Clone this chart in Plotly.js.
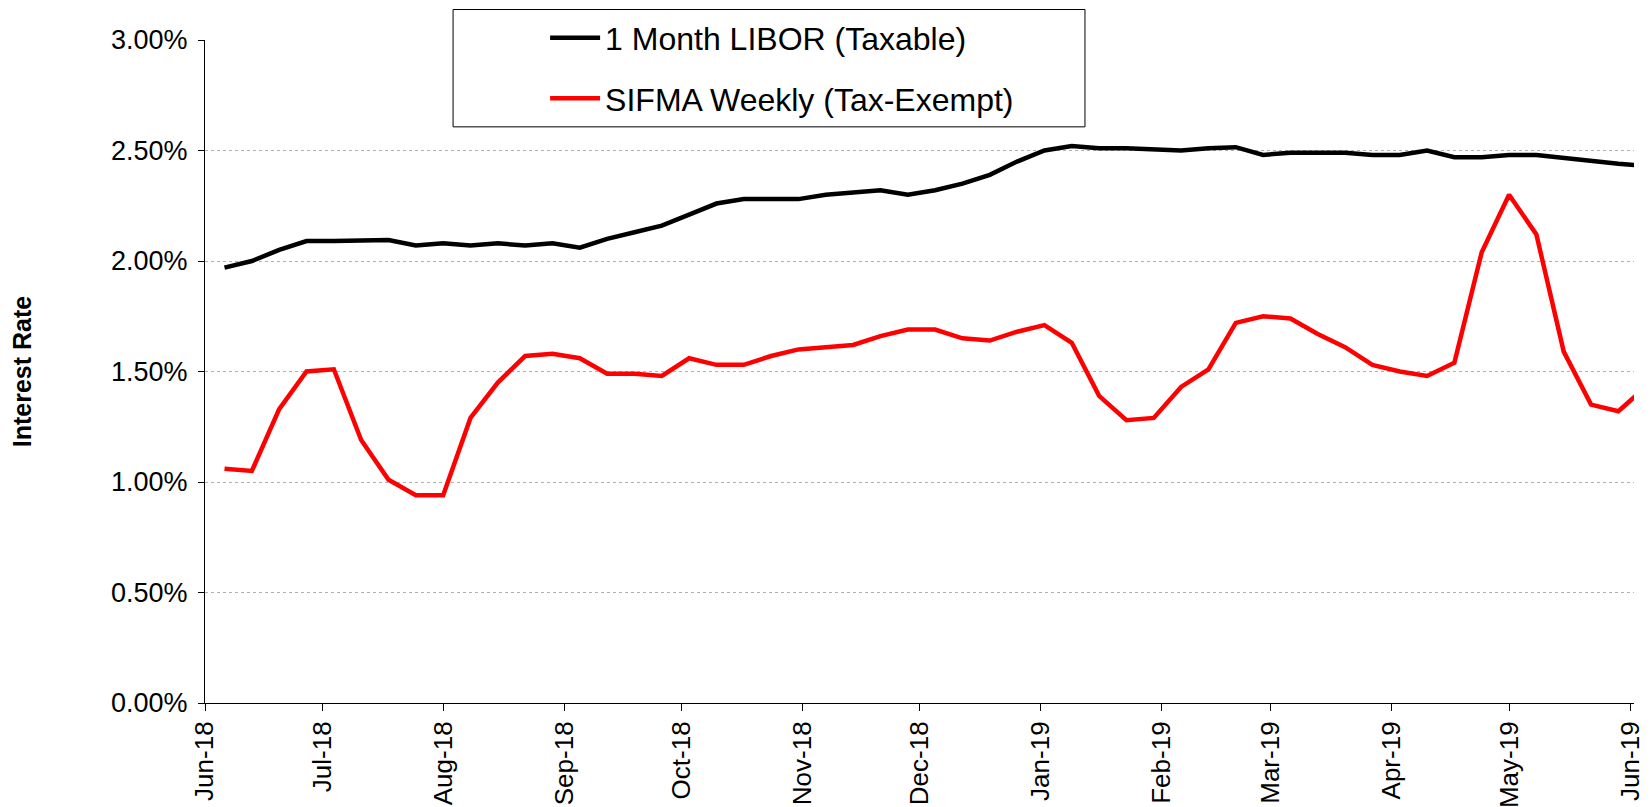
<!DOCTYPE html>
<html>
<head>
<meta charset="utf-8">
<script src="https://cdn.plot.ly/plotly-3.0.1.min.js"></script>
<style>
    html, body { margin: 0; padding: 0; background: #fff; }
    #graph { width: 1652px; height: 807px; }
</style>
</head>
<body>
<div id="graph"></div>
<script>
// Недельные даты (среды)
const weeks = [
    '2018-06-06', '2018-06-13', '2018-06-20', '2018-06-27',
    '2018-07-04', '2018-07-11', '2018-07-18', '2018-07-25',
    '2018-08-01', '2018-08-08', '2018-08-15', '2018-08-22', '2018-08-29',
    '2018-09-05', '2018-09-12', '2018-09-19', '2018-09-26',
    '2018-10-03', '2018-10-10', '2018-10-17', '2018-10-24', '2018-10-31',
    '2018-11-07', '2018-11-14', '2018-11-21', '2018-11-28',
    '2018-12-05', '2018-12-12', '2018-12-19', '2018-12-26',
    '2019-01-02', '2019-01-09', '2019-01-16', '2019-01-23', '2019-01-30',
    '2019-02-06', '2019-02-13', '2019-02-20', '2019-02-27',
    '2019-03-06', '2019-03-13', '2019-03-20', '2019-03-27',
    '2019-04-03', '2019-04-10', '2019-04-17', '2019-04-24',
    '2019-05-01', '2019-05-08', '2019-05-15', '2019-05-22', '2019-05-29',
    '2019-06-05'
];

// Ставки, %
const libor = [
    1.97, 2.00, 2.05, 2.09, 2.09, 2.09, 2.095, 2.07, 2.08, 2.07, 2.08, 2.07, 2.08,
    2.06, 2.10, 2.13, 2.16, 2.21, 2.26, 2.28, 2.28, 2.28, 2.30, 2.31, 2.32, 2.30,
    2.32, 2.35, 2.39, 2.45, 2.50, 2.52, 2.51, 2.51, 2.505, 2.50, 2.51, 2.515, 2.48,
    2.49, 2.49, 2.49, 2.48, 2.48, 2.50, 2.47, 2.47, 2.48, 2.48, 2.465, 2.45, 2.44,
    2.43
];
const sifma = [
    1.06, 1.05, 1.33, 1.50, 1.51, 1.19, 1.01, 0.94, 0.94, 1.29, 1.45, 1.57, 1.58,
    1.56, 1.49, 1.49, 1.48, 1.56, 1.53, 1.53, 1.57, 1.60, 1.61, 1.62, 1.66, 1.69,
    1.69, 1.65, 1.64, 1.68, 1.71, 1.63, 1.39, 1.28, 1.29, 1.43, 1.51, 1.72, 1.75,
    1.74, 1.67, 1.61, 1.53, 1.50, 1.48, 1.54, 2.04, 2.30, 2.12, 1.59, 1.35, 1.32,
    1.43
];

const seriesNames = ['1 Month LIBOR (Taxable)', 'SIFMA Weekly (Tax-Exempt)'];
const font = 'Liberation Sans, Arial, sans-serif';

const traces = [
    {
        x: weeks,
        y: libor,
        type: 'scatter',
        mode: 'lines',
        name: seriesNames[0],
        legendgroup: 'a',
        line: { color: '#000000', width: 4.5 }
    },
    {
        x: weeks,
        y: sifma,
        type: 'scatter',
        mode: 'lines',
        name: seriesNames[1],
        legendgroup: 'b',
        line: { color: '#ff0000', width: 4.5 }
    }
];

const layout = {
    width: 1652,
    height: 807,
    margin: { l: 205, r: 18, t: 39, b: 104 },
    paper_bgcolor: '#ffffff',
    plot_bgcolor: '#ffffff',
    font: { family: font, color: '#000000', size: 26 },
    showlegend: true,
    legend: {
        x: 0.238,
        y: 1.043,
        xanchor: 'left',
        yanchor: 'top',
        bgcolor: 'rgba(0,0,0,0)',
        borderwidth: 0,
        font: { family: font, size: 32, color: '#000000' },
        tracegroupgap: 16,
        itemwidth: 50,
        itemclick: false
    },
    xaxis: {
        type: 'date',
        range: ['2018-06-01', '2019-06-02'],
        tick0: '2018-06-01',
        dtick: 'M1',
        tickformat: '%b-%y',
        tickangle: -90,
        ticks: 'outside',
        ticklen: 7,
        tickcolor: '#000000',
        showline: true,
        linecolor: '#000000',
        linewidth: 1,
        showgrid: false,
        zeroline: false,
        automargin: false,
        tickfont: { family: font, size: 26 }
    },
    yaxis: {
        range: [0, 3],
        dtick: 0.5,
        tickformat: '.2f',
        ticksuffix: '%',
        ticks: 'outside',
        ticklen: 6,
        tickcolor: '#000000',
        ticklabelstandoff: 5,
        showline: true,
        linecolor: '#000000',
        linewidth: 1,
        showgrid: true,
        gridcolor: '#b0b0b0',
        griddash: 'dot',
        gridwidth: 1,
        zeroline: false,
        automargin: false,
        tickfont: { family: font, size: 27 },
        title: {
            text: '<b>Interest Rate</b>',
            font: { family: font, size: 25 },
            standoff: 72
        }
    },
    shapes: [
        // Рамка легенды
        {
            type: 'rect',
            xref: 'paper',
            yref: 'paper',
            x0: 0.1736,
            x1: 0.6158,
            y0: 0.869,
            y1: 1.046,
            fillcolor: '#ffffff',
            line: { color: '#000000', width: 1 },
            layer: 'above'
        }
    ]
};

Plotly.newPlot('graph', traces, layout, { displayModeBar: false, staticPlot: true });
</script>
</body>
</html>
